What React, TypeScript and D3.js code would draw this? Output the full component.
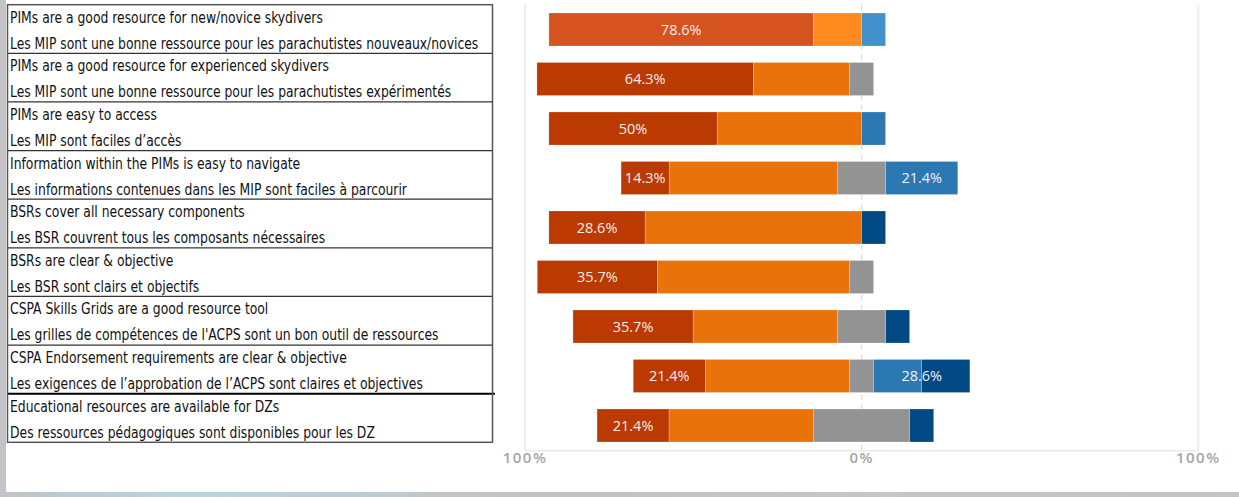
import React from "react";
import * as d3 from "d3";

const englishLabels = [
  "PIMs are a good resource for new/novice skydivers",
  "PIMs are a good resource for experienced skydivers",
  "PIMs are easy to access",
  "Information within the PIMs is easy to navigate",
  "BSRs cover all necessary components",
  "BSRs are clear & objective",
  "CSPA Skills Grids are a good resource tool",
  "CSPA Endorsement requirements are clear & objective",
  "Educational resources are available for DZs",
];
const frenchLabels = [
  "Les MIP sont une bonne ressource pour les parachutistes nouveaux/novices",
  "Les MIP sont une bonne ressource pour les parachutistes expérimentés",
  "Les MIP sont faciles d’accès",
  "Les informations contenues dans les MIP sont faciles à parcourir",
  "Les BSR couvrent tous les composants nécessaires",
  "Les BSR sont clairs et objectifs",
  "Les grilles de compétences de l'ACPS sont un bon outil de ressources",
  "Les exigences de l’approbation de l’ACPS sont claires et objectives",
  "Des ressources pédagogiques sont disponibles pour les DZ",
];
const stronglyAgree = [78.6, 64.3, 50, 14.3, 28.6, 35.7, 35.7, 21.4, 21.4];
const agree = [14.3, 28.6, 42.9, 50, 64.3, 57.1, 42.9, 42.9, 42.9];
const neutral = [0, 7.1, 0, 14.3, 0, 7.1, 14.3, 7.1, 28.6];
const disagree = [7.1, 0, 7.1, 21.4, 0, 0, 0, 14.3, 0];
const stronglyDisagree = [0, 0, 0, 0, 7.1, 0, 7.1, 14.3, 7.1];
const tickValues = [-100, 0, 100];
const tickLabels = ["100%", "0%", "100%"];

const colors = {
  sa: "#BA3A02",
  a: "#EA720A",
  n: "#939393",
  d: "#2C78B2",
  sd: "#004985",
};
const highlight = {
  sa: "#D4531F",
  a: "#FF8A1F",
  n: "#A8A8A8",
  d: "#4391CC",
  sd: "#2A6AA5",
};

const W = 1239;
const H = 497;
const tableFont = "'DejaVu Sans Condensed', 'Liberation Sans Narrow', 'Liberation Sans', sans-serif";

export default function App() {
  const n = englishLabels.length;
  const idx = d3.range(n);
  const x = d3.scaleLinear().domain([-100, 100]).range([525, 1198.3]);
  const y = d3
    .scaleBand<number>()
    .domain(idx)
    .range([4.75, 450.25])
    .paddingInner(0.333)
    .paddingOuter(0.1667);
  const rowY = d3.scaleBand<number>().domain(idx).range([4.7, 442.3]);

  const fmt = (v: number) => `${d3.format(".1f")(v).replace(/\.0$/, "")}%`;

  const bars: React.ReactNode[] = [];
  idx.forEach((i) => {
    const pal = i === 0 ? highlight : colors;
    const half = neutral[i] / 2;
    const segs = [
      { key: "sa", x0: -(half + agree[i] + stronglyAgree[i]), x1: -(half + agree[i]) },
      { key: "a", x0: -(half + agree[i]), x1: -half },
      { key: "n", x0: -half, x1: half },
      { key: "d", x0: half, x1: half + disagree[i] },
      { key: "sd", x0: half + disagree[i], x1: half + disagree[i] + stronglyDisagree[i] },
    ];
    segs.forEach((s) => {
      if (s.x1 - s.x0 <= 0) return;
      bars.push(
        <rect
          key={`${i}-${s.key}`}
          x={x(s.x0)}
          y={y(i)}
          width={x(s.x1) - x(s.x0)}
          height={y.bandwidth()}
          fill={(pal as any)[s.key]}
          stroke="#ffffff"
          strokeOpacity={0.35}
          strokeWidth={0.6}
        />
      );
    });
    const cy = (y(i) as number) + y.bandwidth() / 2;
    const s0 = segs[0];
    bars.push(
      <text
        key={`l-${i}`}
        x={(x(s0.x0) + x(s0.x1)) / 2}
        y={cy}
        dy="0.35em"
        textAnchor="middle"
        fontFamily="'Open Sans', 'Noto Sans', sans-serif"
        fontSize={14.5}
        fill="#F4EDE8"
      >
        {fmt(stronglyAgree[i])}
      </text>
    );
    const rightTotal = disagree[i] + stronglyDisagree[i];
    if (rightTotal >= 20) {
      bars.push(
        <text
          key={`r-${i}`}
          x={(x(half) + x(half + rightTotal)) / 2}
          y={cy}
          dy="0.35em"
          textAnchor="middle"
          fontFamily="'Open Sans', 'Noto Sans', sans-serif"
          fontSize={14.5}
          fill="#EEF2F6"
        >
          {fmt(rightTotal)}
        </text>
      );
    }
  });

  const [top, bottom] = y.range();

  return (
    <svg
      width={W}
      height={H}
      style={{ position: "absolute", left: 0, top: 0, display: "block" }}
    >
      <defs>
        <linearGradient id="strip" x1="0" x2="1" y1="0" y2="0">
          <stop offset="0" stopColor="#BFC3C8" />
          <stop offset="0.15" stopColor="#B9D6E0" />
          <stop offset="0.45" stopColor="#C4BFC2" />
          <stop offset="0.7" stopColor="#C9C6C2" />
          <stop offset="1" stopColor="#BFC4C8" />
        </linearGradient>
      </defs>
      <rect x={0} y={0} width={W} height={H} fill="#ffffff" />
      <rect x={0} y={0} width={6} height={H} fill="#C3C3C6" />
      <rect x={0} y={492} width={W} height={5} fill="url(#strip)" />

      {tickValues.map((t) => (
        <line
          key={`g-${t}`}
          x1={x(t)}
          x2={x(t)}
          y1={top}
          y2={bottom}
          stroke={t === 0 ? "#DADADA" : "#EEEEEE"}
          strokeWidth={t === 0 ? 1.2 : 2}
          strokeDasharray={t === 0 ? "5,5" : undefined}
        />
      ))}
      <line x1={x(-100)} x2={x(100)} y1={bottom + 0.5} y2={bottom + 0.5} stroke="#EAEAEA" strokeWidth={1.5} />

      {bars}

      {tickValues.map((t, k) => (
        <text
          key={`t-${t}`}
          x={x(t)}
          y={462.5}
          textAnchor="middle"
          fontFamily="'Open Sans', 'Noto Sans', sans-serif"
          fontSize={15}
          fontWeight={600}
          letterSpacing={1.5}
          fill="#A6A6A6"
        >
          {tickLabels[k]}
        </text>
      ))}

      {idx.map((i) => {
        const ty = rowY(i) as number;
        return (
          <g key={`row-${i}`}>
            <g transform="translate(10,0) scale(0.917,1)">
              <text x={0} y={ty + 18} fontFamily={tableFont} fontSize={15} fill="#111111">
                {englishLabels[i]}
              </text>
              <text x={0} y={ty + 44} fontFamily={tableFont} fontSize={15} fill="#111111">
                {frenchLabels[i]}
              </text>
            </g>
            {i > 0 && (
              <line
                x1={7.5}
                x2={i === n - 1 ? 495 : 492.5}
                y1={ty}
                y2={ty}
                stroke={i === n - 1 ? "#000000" : "#333333"}
                strokeWidth={i === n - 1 ? 2 : 1.2}
              />
            )}
          </g>
        );
      })}
      <rect
        x={7.5}
        y={rowY.range()[0]}
        width={485}
        height={rowY.range()[1] - rowY.range()[0]}
        fill="none"
        stroke="#555555"
        strokeWidth={1.5}
      />
    </svg>
  );
}
